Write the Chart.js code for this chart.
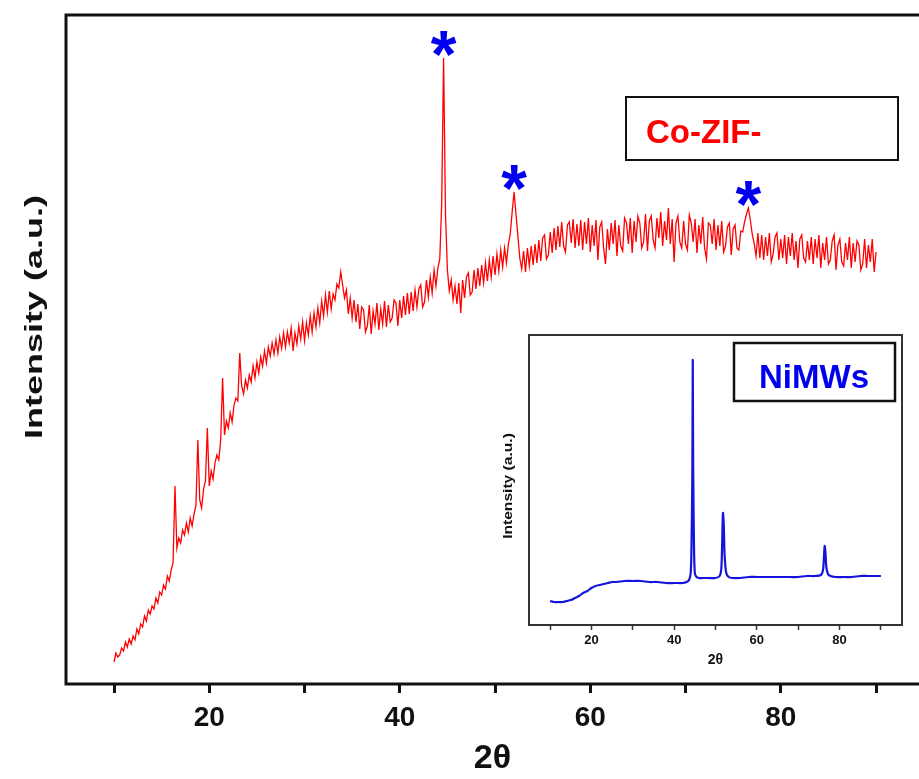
<!DOCTYPE html>
<html>
<head>
<meta charset="utf-8">
<script src="https://cdn.jsdelivr.net/npm/chart.js@4.4.1/dist/chart.umd.min.js"></script>
<style>
  html, body { margin: 0; padding: 0; background: #fff; }
  #wrap { position: relative; width: 919px; height: 779px; overflow: hidden; background: #fff; }
  #main { position: absolute; left: 0; top: 0; width: 919px; height: 779px; }
  #inset { position: absolute; left: 490px; top: 320px; width: 429px; height: 360px; }
</style>
</head>
<body>
<div id="wrap">
  <canvas id="main" width="919" height="779"></canvas>
  <canvas id="inset" width="429" height="360"></canvas>
</div>
<script>
// Co-ZIF pattern, sampled every 0.2 deg from 10 to 90 (arbitrary intensity)
const mainStart = 10;
const mainStep = 0.2;
const mainIntensity = [
  22, 31, 27, 29, 36,
  33, 42, 37, 45, 40,
  48, 44, 55, 50, 60,
  57, 68, 63, 74, 70,
  78, 75, 86, 81, 92,
  89, 99, 95, 108, 103,
  114, 121, 198, 136, 146,
  141, 154, 149, 161, 152,
  166, 158, 170, 178, 244,
  184, 176, 195, 203, 256,
  198, 213, 205, 221, 229,
  224, 244, 306, 249, 263,
  256, 271, 262, 279, 286,
  283, 331, 298, 290, 304,
  296, 309, 302, 318, 306,
  322, 311, 327, 318, 333,
  321, 337, 328, 341, 330,
  344, 331, 347, 336, 351,
  337, 352, 341, 356, 333,
  351, 340, 358, 345, 362,
  343, 361, 349, 368, 352,
  371, 357, 376, 361, 383,
  368, 389, 372, 393, 375,
  390, 384, 400, 396, 412,
  399, 386, 394, 370, 386,
  366, 384, 362, 380, 355,
  377, 374, 352, 358, 379,
  350, 373, 360, 381, 354,
  375, 360, 383, 357, 379,
  362, 366, 384, 381, 358,
  384, 366, 388, 369, 391,
  370, 392, 373, 394, 377,
  395, 399, 377, 382, 404,
  387, 407, 391, 414, 398,
  416, 425, 480, 626, 470,
  414, 393, 404, 384, 398,
  380, 401, 371, 404, 386,
  407, 411, 389, 392, 414,
  395, 416, 398, 419, 401,
  421, 403, 424, 407, 428,
  409, 430, 413, 434, 417,
  436, 421, 440, 450, 472,
  492, 470, 448, 426, 415,
  433, 412, 436, 418, 438,
  419, 440, 421, 444, 423,
  446, 449, 425, 429, 452,
  431, 456, 434, 458, 437,
  462, 438, 432, 459, 462,
  441, 465, 436, 460, 438,
  464, 434, 462, 440, 466,
  432, 459, 438, 464, 424,
  457, 462, 436, 420, 455,
  434, 461, 440, 464, 428,
  459, 438, 433, 466, 461,
  440, 466, 431, 463, 442,
  468, 461, 436, 442, 470,
  433, 463, 468, 444, 436,
  466, 446, 472, 438, 463,
  444, 476, 440, 465, 422,
  461, 468, 442, 436, 463,
  440, 434, 469, 461, 442,
  465, 431, 459, 440, 467,
  436, 425, 461, 459, 440,
  465, 434, 459, 438, 463,
  432, 438, 457, 461, 429,
  455, 459, 436, 434, 453,
  452, 462, 470, 476, 464,
  450, 441, 428, 451, 426,
  449, 424, 447, 428, 451,
  422, 430, 447, 451, 424,
  445, 426, 449, 420, 447,
  428, 451, 424, 443, 416,
  445, 449, 426, 422, 443,
  424, 447, 420, 445, 426,
  449, 416, 441, 424, 447,
  420, 424, 443, 449, 414,
  439, 445, 422, 418, 441,
  424, 447, 416, 441, 422,
  443, 439, 414, 420, 445,
  416, 439, 422, 445, 412,
  432
];

// Reflections marked with an asterisk
const starTheta = [44.6, 52.0, 76.6];

// NiMWs reference pattern
const insetTheta = [10, 11, 12, 13, 14, 15, 16, 17, 18, 19, 20, 21, 22, 23, 24, 25, 26,
  28, 30, 32, 34, 36, 38, 40, 41, 42, 43,
  43.6, 44.0, 44.2, 44.4, 44.5, 44.6, 44.8, 45.0, 45.4,
  46, 47, 48, 50,
  51.0, 51.4, 51.6, 51.8, 52.0, 52.2, 52.6, 53.2,
  54, 56, 58, 60, 62, 64, 66, 68, 70, 72, 74,
  75.5, 76.0, 76.2, 76.4, 76.6, 76.8, 77.2, 77.8,
  79, 81, 83, 85, 87, 89, 90];
const insetIntensity = [24, 23, 23, 23, 24, 25, 27, 29, 32, 34, 37, 39, 40, 41, 42, 43, 43,
  44, 44, 44, 43, 43, 42, 42, 42, 42, 43,
  45, 52, 80, 150, 265, 160, 80, 52, 48,
  47, 47, 47, 47,
  49, 56, 80, 112, 100, 70, 52, 48,
  47, 47, 48, 48, 48, 48, 48, 48, 48, 49, 49,
  50, 55, 66, 79, 72, 58, 51, 49,
  48, 48, 48, 49, 49, 49, 49];

const tickValues = [10, 20, 30, 40, 50, 60, 70, 80, 90];
const labeledTicks = [20, 40, 60, 80];

const FONT = '"Liberation Sans", Arial, Helvetica, sans-serif';

const mainPoints = mainIntensity.map((v, i) => ({ x: mainStart + i * mainStep, y: v }));
const insetPoints = insetTheta.map((t, i) => ({ x: t, y: insetIntensity[i] }));

// axis frame: open on the right for the main plot, closed for the inset
const frame = {
  id: 'frame',
  afterDraw(chart, args, opts) {
    const { ctx, chartArea: a } = chart;
    ctx.save();
    ctx.strokeStyle = opts.color;
    ctx.lineWidth = opts.width;
    ctx.beginPath();
    if (opts.closed) {
      ctx.rect(a.left, a.top, a.right - a.left, a.bottom - a.top);
    } else {
      ctx.moveTo(a.right + 10, a.top);
      ctx.lineTo(a.left, a.top);
      ctx.lineTo(a.left, a.bottom);
      ctx.lineTo(a.right + 10, a.bottom);
    }
    ctx.stroke();
    ctx.restore();
  }
};

// framed sample name
const labelBox = {
  id: 'labelBox',
  afterDraw(chart, args, b) {
    const ctx = chart.ctx;
    ctx.save();
    ctx.fillStyle = '#fff';
    ctx.fillRect(b.left, b.top, b.width, b.height);
    ctx.lineWidth = b.lineWidth;
    ctx.strokeStyle = '#111';
    ctx.strokeRect(b.left, b.top, b.width, b.height);
    ctx.font = b.font;
    ctx.fillStyle = b.color;
    ctx.textAlign = b.align;
    ctx.textBaseline = 'alphabetic';
    ctx.fillText(b.text, b.textX, b.textY);
    ctx.restore();
  }
};

// vertical axis title, drawn rotated and stretched along its length
const sideTitle = {
  id: 'sideTitle',
  afterDraw(chart, args, o) {
    const ctx = chart.ctx;
    ctx.save();
    ctx.translate(o.x, o.y);
    ctx.rotate(-Math.PI / 2);
    ctx.scale(o.stretch, 1);
    ctx.font = o.font;
    ctx.fillStyle = o.color;
    ctx.textAlign = 'center';
    ctx.textBaseline = 'middle';
    ctx.fillText(o.text, 0, 0);
    ctx.restore();
  }
};

const peakStars = {
  id: 'peakStars',
  afterDatasetsDraw(chart, args, o) {
    const { ctx, scales: { x, y } } = chart;
    ctx.save();
    ctx.font = o.font;
    ctx.fillStyle = o.color;
    ctx.textAlign = 'center';
    ctx.textBaseline = 'alphabetic';
    const m = ctx.measureText('*');
    const mid = (m.actualBoundingBoxAscent - m.actualBoundingBoxDescent) / 2;
    starTheta.forEach(t => {
      const idx = Math.round((t - mainStart) / mainStep);
      const cy = y.getPixelForValue(mainIntensity[idx]) - o.gap;
      ctx.fillText('*', x.getPixelForValue(t), cy + mid);
    });
    ctx.restore();
  }
};

new Chart(document.getElementById('main'), {
  type: 'line',
  data: {
    datasets: [{
      data: mainPoints,
      borderColor: '#ff0000',
      borderWidth: 1.3,
      pointRadius: 0,
      tension: 0,
      fill: false
    }]
  },
  options: {
    responsive: false,
    animation: false,
    events: [],
    layout: { padding: { top: 15, right: 0, bottom: 0, left: 0 } },
    plugins: {
      legend: { display: false },
      tooltip: { enabled: false },
      frame: { color: '#111', width: 3, closed: false },
      labelBox: {
        left: 626, top: 97, width: 272, height: 63, lineWidth: 2,
        text: 'Co-ZIF-', textX: 646, textY: 143, align: 'left',
        font: 'bold 33px ' + FONT, color: '#ff0000'
      },
      sideTitle: {
        text: 'Intensity (a.u.)', x: 35, y: 317, stretch: 1.5,
        font: 'bold 24px ' + FONT, color: '#111'
      },
      peakStars: { font: 'bold 66px ' + FONT, color: '#0000ee', gap: 15 }
    },
    scales: {
      x: {
        type: 'linear',
        min: 4.96,
        max: 94.51,
        afterFit: s => { s.height = 95; },
        afterBuildTicks: s => { s.ticks = tickValues.map(v => ({ value: v })); },
        grid: { drawOnChartArea: false, drawTicks: true, tickLength: 9, tickWidth: 3, tickColor: '#111' },
        border: { display: false },
        ticks: {
          autoSkip: false, maxRotation: 0, padding: 8, color: '#111',
          font: { family: FONT, size: 28, weight: 'bold' },
          callback: v => labeledTicks.includes(v) ? String(v) : ''
        },
        title: {
          display: true, text: '2θ', color: '#111',
          font: { family: FONT, size: 34, weight: 'bold' },
          padding: { top: 0, bottom: 0 }
        }
      },
      y: {
        min: 0,
        max: 669,
        afterFit: s => { s.width = 66; },
        ticks: { display: false },
        grid: { display: false },
        border: { display: false }
      }
    }
  },
  plugins: [frame, labelBox, sideTitle, peakStars]
});

new Chart(document.getElementById('inset'), {
  type: 'line',
  data: {
    datasets: [{
      data: insetPoints,
      borderColor: '#1414dc',
      borderWidth: 2.2,
      pointRadius: 0,
      tension: 0.3,
      fill: false
    }]
  },
  options: {
    responsive: false,
    animation: false,
    events: [],
    layout: { padding: { top: 15, right: 17, bottom: 0, left: 0 } },
    plugins: {
      legend: { display: false },
      tooltip: { enabled: false },
      frame: { color: '#333', width: 2, closed: true },
      labelBox: {
        left: 244, top: 23, width: 161, height: 58, lineWidth: 2.5,
        text: 'NiMWs', textX: 324, textY: 68, align: 'center',
        font: 'bold 33px ' + FONT, color: '#0000ee'
      },
      sideTitle: {
        text: 'Intensity (a.u.)', x: 18, y: 166, stretch: 1.2,
        font: 'bold 13px ' + FONT, color: '#111'
      }
    },
    scales: {
      x: {
        type: 'linear',
        min: 4.9,
        max: 95.1,
        afterFit: s => { s.height = 55; },
        afterBuildTicks: s => { s.ticks = tickValues.map(v => ({ value: v })); },
        grid: { drawOnChartArea: false, drawTicks: true, tickLength: 5, tickWidth: 1.5, tickColor: '#333' },
        border: { display: false },
        ticks: {
          autoSkip: false, maxRotation: 0, padding: 3, color: '#111',
          font: { family: FONT, size: 13, weight: 'bold' },
          callback: v => labeledTicks.includes(v) ? String(v) : ''
        },
        title: {
          display: true, text: '2θ', color: '#111',
          font: { family: FONT, size: 14, weight: 'bold' },
          padding: { top: 0, bottom: 11 }
        }
      },
      y: {
        min: 0,
        max: 290,
        afterFit: s => { s.width = 39; },
        ticks: { display: false },
        grid: { display: false },
        border: { display: false }
      }
    }
  },
  plugins: [frame, labelBox, sideTitle]
});
</script>
</body>
</html>
